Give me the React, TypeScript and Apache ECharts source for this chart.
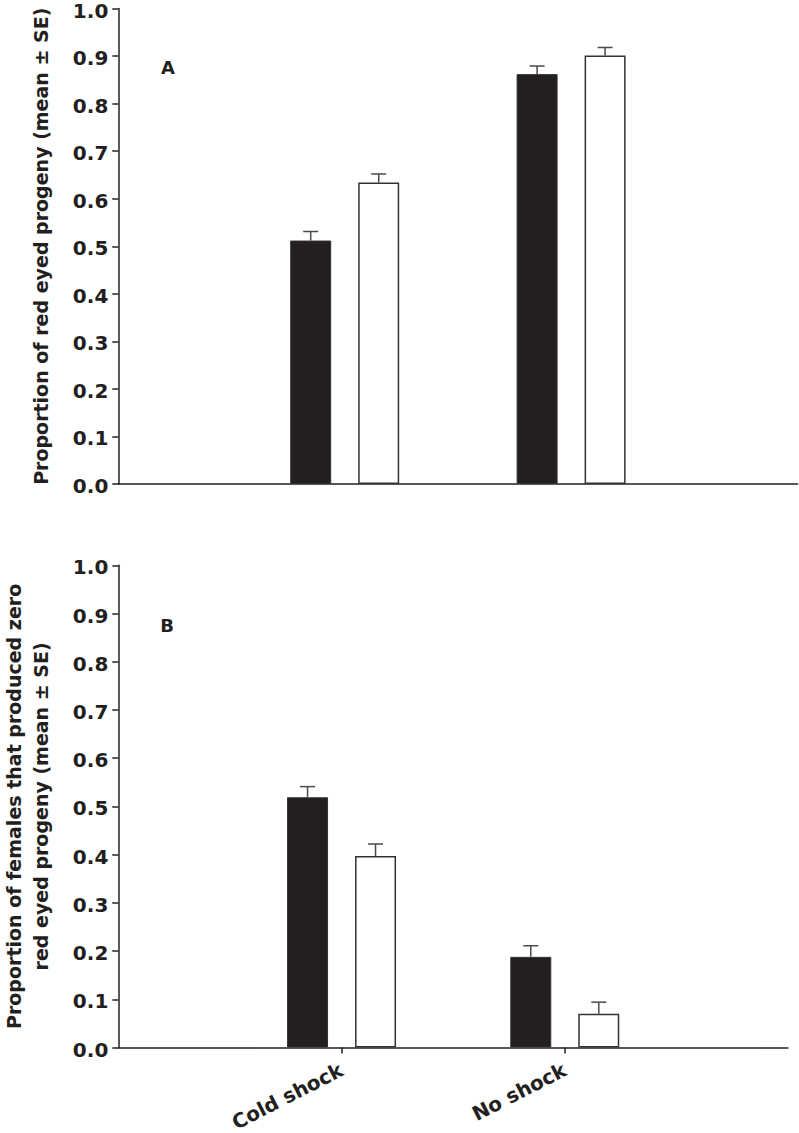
import React, { useEffect, useRef } from "react";
import * as echarts from "echarts";

const categories = ["Cold shock", "No shock"];

// Panel A: proportion of red eyed progeny
const aFilledMean = [0.512, 0.862];
const aFilledSE = [0.019, 0.017];
const aOpenMean = [0.634, 0.901];
const aOpenSE = [0.018, 0.017];

// Panel B: proportion of females that produced zero red eyed progeny
const bFilledMean = [0.519, 0.188];
const bFilledSE = [0.022, 0.023];
const bOpenMean = [0.397, 0.07];
const bOpenSE = [0.025, 0.024];

const FONT = "DejaVu Sans";
const INK = "#231f20";
const BAR_W = 41;
const BAR_GAP = 27;
const CAP = 15;

const axisData = ["", ...categories, ""];
const pad = (arr: number[]) => ["-", ...arr, "-"];
const errData = (mean: number[], se: number[]) => mean.map((m, i) => [i + 1, m, se[i]]);

function errSeries(gridIdx: number, mean: number[], se: number[], sign: number) {
  return {
    type: "custom",
    xAxisIndex: gridIdx,
    yAxisIndex: gridIdx,
    z: 1,
    data: errData(mean, se),
    renderItem: (params: any, api: any) => {
      const x = api.value(0);
      const v = api.value(1);
      const s = api.value(2);
      const base = api.coord([x, v]);
      const up = api.coord([x, v + s]);
      const cx = base[0] + (sign * (BAR_W + BAR_GAP)) / 2;
      const st = { stroke: "#4a4a4a", lineWidth: 1.5 };
      return {
        type: "group",
        children: [
          { type: "line", shape: { x1: cx, y1: base[1], x2: cx, y2: up[1] }, style: st },
          { type: "line", shape: { x1: cx - CAP / 2, y1: up[1], x2: cx + CAP / 2, y2: up[1] }, style: st },
        ],
      };
    },
  };
}

function barSeries(gridIdx: number, name: string, mean: number[], filled: boolean) {
  return {
    type: "bar",
    name,
    xAxisIndex: gridIdx,
    yAxisIndex: gridIdx,
    barWidth: BAR_W,
    barGap: `${(BAR_GAP / BAR_W) * 100}%`,
    z: 2,
    data: pad(mean),
    itemStyle: filled
      ? { color: INK, borderColor: "#333", borderWidth: 1 }
      : { color: "#ffffff", borderColor: "#333", borderWidth: 1.5 },
  };
}

function yAxis(gridIdx: number, name: string, nameGap: number, lineHeight: number) {
  return {
    type: "value",
    gridIndex: gridIdx,
    min: 0,
    max: 1,
    interval: 0.1,
    name,
    nameLocation: "middle",
    nameGap,
    nameTextStyle: {
      fontFamily: FONT,
      fontWeight: "bold",
      fontSize: 19,
      color: INK,
      lineHeight,
      align: "center",
    },
    splitLine: { show: false },
    axisLine: { show: true, lineStyle: { color: INK, width: 1.5 } },
    axisTick: { show: true, inside: false, length: 6, lineStyle: { color: INK, width: 1.5 } },
    axisLabel: {
      margin: 10,
      fontFamily: FONT,
      fontWeight: "bold",
      fontSize: 20,
      lineHeight: 4,
      verticalAlign: "top",
      color: INK,
      formatter: (v: number) => v.toFixed(1),
    },
  };
}

export default function App() {
  const ref = useRef<HTMLDivElement>(null);
  useEffect(() => {
    if (!ref.current) return;
    const chart = echarts.init(ref.current, undefined, { renderer: "svg" });
    const option: any = {
      animation: false,
      backgroundColor: "#ffffff",
      grid: [
        { left: 118.3, top: 8.5, width: 679.2, height: 475.5, containLabel: false, outerBoundsMode: "none" },
        { left: 118.3, top: 565.3, width: 669.7, height: 482.2, containLabel: false, outerBoundsMode: "none" },
      ],
      xAxis: [
        {
          type: "category",
          gridIndex: 0,
          data: axisData,
          boundaryGap: false,
          axisLine: { show: true, lineStyle: { color: INK, width: 1.5 } },
          axisTick: { show: false },
          axisLabel: { show: false },
          splitLine: { show: false },
        },
        {
          type: "category",
          gridIndex: 1,
          data: axisData,
          boundaryGap: false,
          axisLine: { show: true, lineStyle: { color: INK, width: 1.5 } },
          axisTick: {
            show: true,
            length: 6,
            interval: (i: number, v: string) => v !== "",
            lineStyle: { color: INK, width: 1.5 },
          },
          axisLabel: {
            interval: 0,
            rotate: 27,
            margin: 21,
            overflow: "none",
            hideOverlap: false,
            fontFamily: FONT,
            fontWeight: "bold",
            fontSize: 20,
            lineHeight: 18,
            color: INK,
          },
          splitLine: { show: false },
        },
      ],
      yAxis: [
        yAxis(0, "Proportion of red eyed progeny (mean ± SE)", 66, 22),
        yAxis(1, "Proportion of females that produced zero\nred eyed progeny (mean ± SE)", 64, 27),
      ],
      graphic: [
        { type: "text", x: 168, y: 67, style: { text: "A", font: `bold 18px '${FONT}'`, fill: INK, textAlign: "center", textVerticalAlign: "middle" } },
        { type: "text", x: 167, y: 625, style: { text: "B", font: `bold 18px '${FONT}'`, fill: INK, textAlign: "center", textVerticalAlign: "middle" } },
      ],
      series: [
        barSeries(0, "Filled", aFilledMean, true),
        barSeries(0, "Open", aOpenMean, false),
        errSeries(0, aFilledMean, aFilledSE, -1),
        errSeries(0, aOpenMean, aOpenSE, 1),
        barSeries(1, "Filled", bFilledMean, true),
        barSeries(1, "Open", bOpenMean, false),
        errSeries(1, bFilledMean, bFilledSE, -1),
        errSeries(1, bOpenMean, bOpenSE, 1),
      ],
    };
    chart.setOption(option);
    return () => chart.dispose();
  }, []);
  return (
    <div
      ref={ref}
      style={{ position: "absolute", left: 0, top: 0, width: 799, height: 1133, background: "#fff" }}
    />
  );
}
